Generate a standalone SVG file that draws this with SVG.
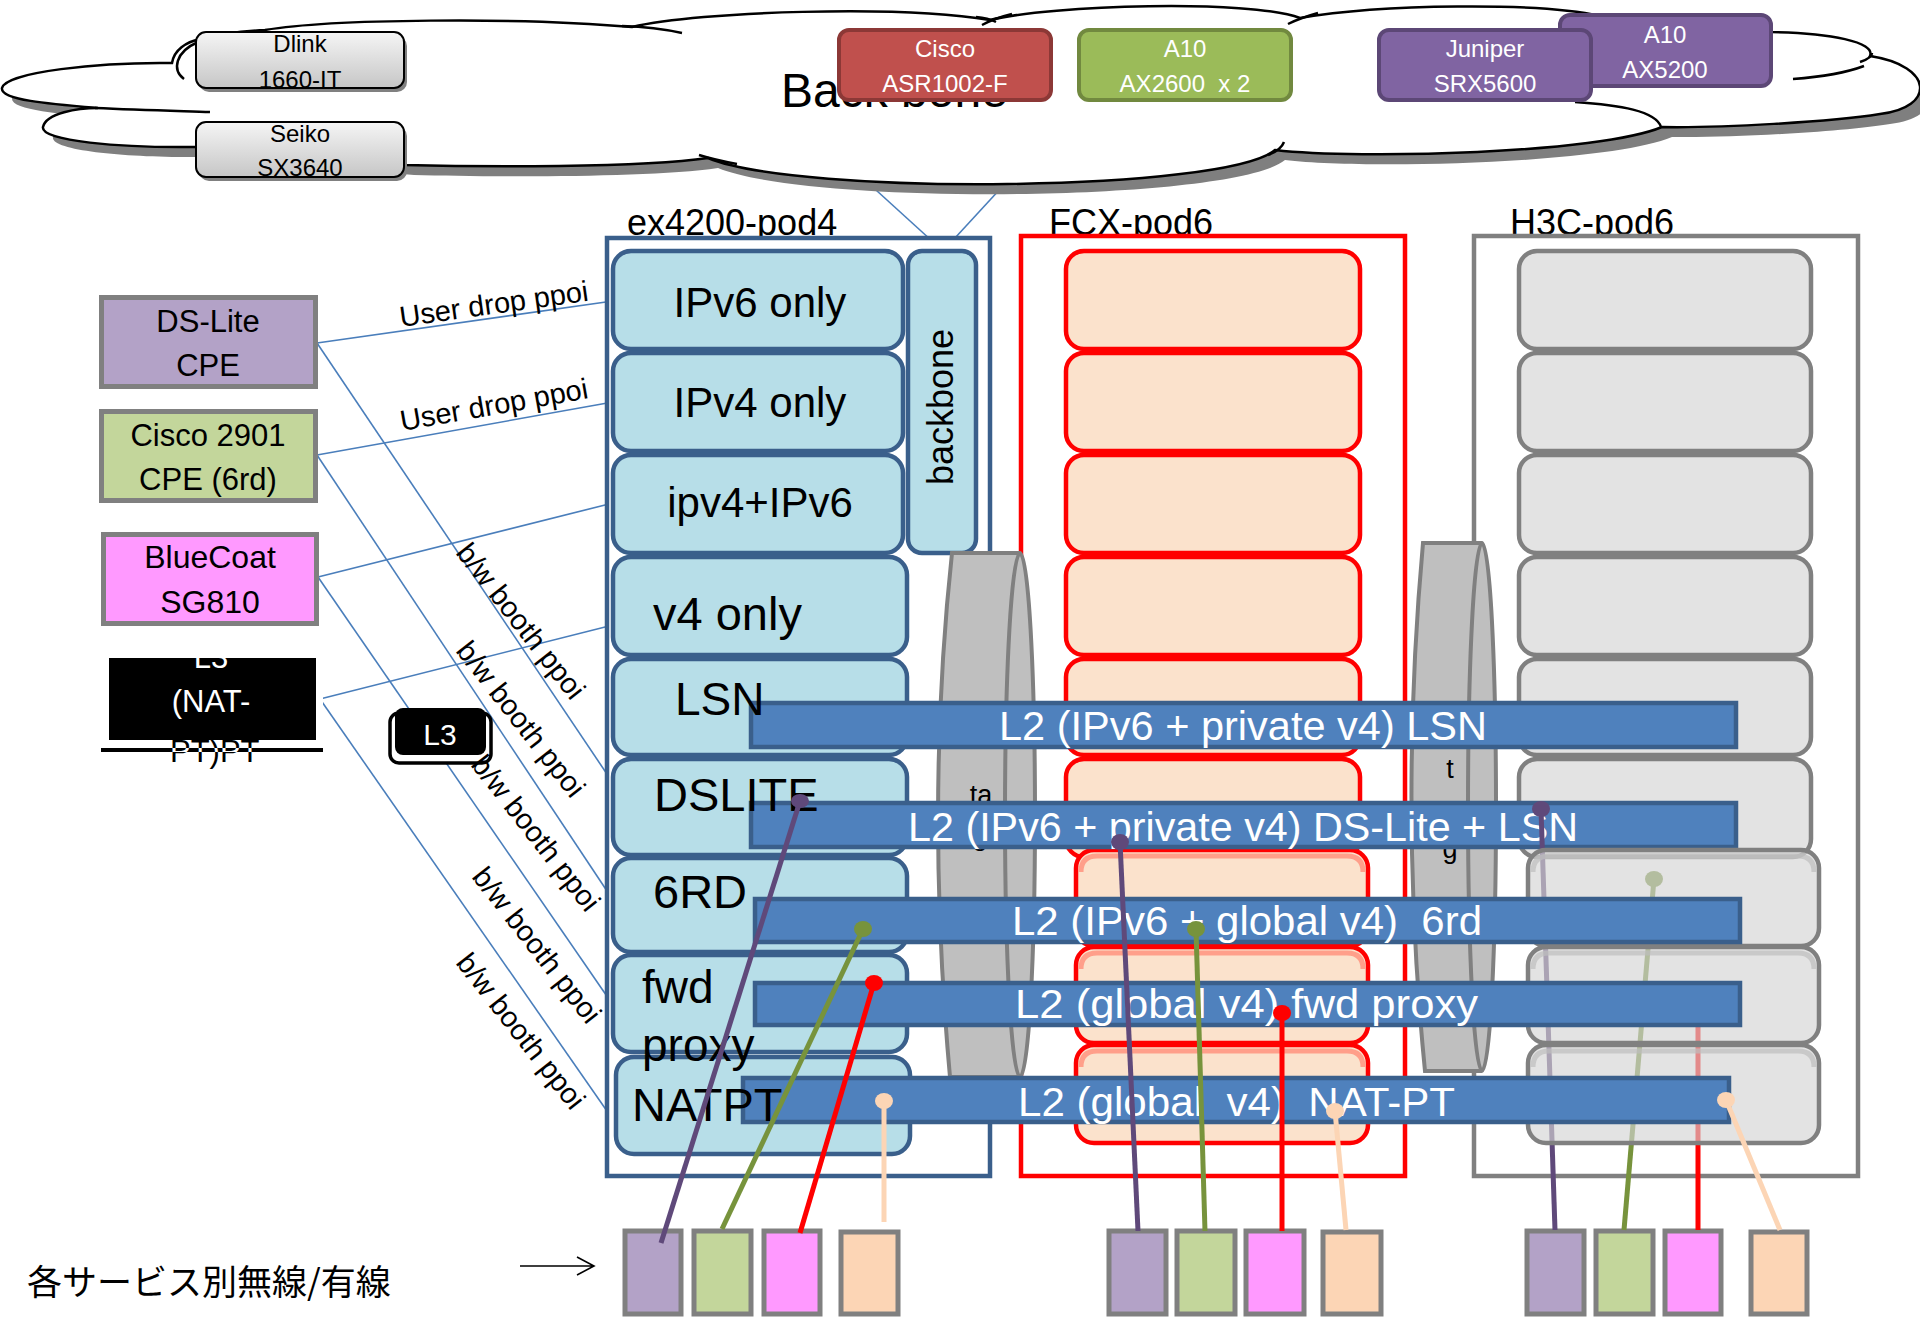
<svg xmlns="http://www.w3.org/2000/svg" width="1920" height="1317" viewBox="0 0 1920 1317">
<defs>
<style>
text{font-family:"Liberation Sans",Arial,sans-serif;}
.cloud{fill:#fff;stroke:#000;stroke-width:2.5;}
.curl{fill:none;stroke:#000;stroke-width:2.5;}
.gbox{fill:url(#gg);stroke:#000;stroke-width:2;}
.wt{fill:#fff;font-size:24px;text-anchor:middle;}
.bt{fill:#000;font-size:24px;text-anchor:middle;}
.conn{stroke:#4a7ebb;stroke-width:1.6;fill:none;}
.lbl{font-size:29px;fill:#000;}
.pod{font-size:36px;fill:#000;}
.exr{fill:#b7dee8;stroke:#3a5f8b;stroke-width:4.5;}
.fxr{fill:#fbe2cc;stroke:#ff0000;stroke-width:4.5;}
.h3r{fill:#e3e3e3;stroke:#808080;stroke-width:4.5;}
.h3t{fill:#d4d4d4;fill-opacity:0.65;stroke:#808080;stroke-width:4.5;}
.rt{font-size:46px;fill:#000;}
.bar{fill:#4f81bd;stroke:#3a5f8b;stroke-width:4.5;}
.bart{fill:#fff;font-size:41px;white-space:pre;}
.cyl{fill:#bfbfbf;stroke:#808080;stroke-width:4;}
.cyli{fill:none;stroke:#808080;stroke-width:4;}
.dev{stroke:#808080;stroke-width:5;}
.dt{font-size:31px;fill:#000;text-anchor:middle;}
.wire{fill:none;stroke-width:5;}
.tag{font-size:27px;fill:#000;text-anchor:middle;}
</style>
<linearGradient id="gg" x1="0" y1="0" x2="0" y2="1"><stop offset="0" stop-color="#f5f5f5"/><stop offset="1" stop-color="#c6c6c6"/></linearGradient>
<path id="cloudp" d="M 2,88 C 5,72 100,62 172,63 C 174,50 186,42 200,39 C 220,34 245,31 265,30 C 330,19 520,17 632,27 C 700,11 900,5 990,20 C 1050,5 1250,-1 1300,18 C 1380,4 1540,2 1600,16 L 1771,32 C 1830,33 1876,42 1870,56 C 1935,66 1935,108 1880,114 C 1830,122 1720,128 1662,127 C 1600,153 1360,160 1275,150 C 1225,192 800,196 708,158 C 640,168 480,167 404,165 L 196,147 C 120,148 40,141 43,127 C 46,113 78,108 98,108 C 50,104 0,100 2,88 Z"/>
<clipPath id="barclip"><rect x="101" y="748" width="222" height="4"/></clipPath>
</defs>
<rect width="1920" height="1317" fill="#fff"/>

<g id="connectors">
<line x1="854" y1="170" x2="943" y2="251" class="conn"/>
<line x1="1013" y1="175" x2="943" y2="251" class="conn"/>
<line x1="317" y1="343" x2="613" y2="301" class="conn"/>
<line x1="317" y1="455" x2="613" y2="402" class="conn"/>
<line x1="318" y1="577" x2="613" y2="503" class="conn"/>
<line x1="320" y1="699" x2="613" y2="625" class="conn"/>
<line x1="317" y1="343" x2="613" y2="783" class="conn"/>
<line x1="317" y1="455" x2="613" y2="900" class="conn"/>
<line x1="318" y1="577" x2="613" y2="1005" class="conn"/>
<line x1="320" y1="699" x2="616" y2="1124" class="conn"/>
</g>

<g id="backbone-cloud">
<use href="#cloudp" transform="translate(10,10)" fill="#7f7f7f"/>
<use href="#cloudp" class="cloud"/>
<path class="curl" d="M 184,79 C 172,70 175,52 198,42"/>
<path class="curl" d="M 95,108 C 140,110 180,111 210,112"/>
<path class="curl" d="M 622,26 Q 655,27 682,33"/>
<path class="curl" d="M 976,17 Q 988,18 996,22"/>
<path class="curl" d="M 982,25 Q 995,18 1012,14"/>
<path class="curl" d="M 1288,24 Q 1300,18 1318,13"/>
<path class="curl" d="M 1872,53 Q 1872,58 1860,62"/>
<path class="curl" d="M 1793,79 C 1820,77 1848,72 1864,66"/>
<path class="curl" d="M 1575,102 C 1620,105 1656,111 1661,127"/>
<path class="curl" d="M 1284,142 Q 1281,150 1268,155"/>
<path class="curl" d="M 699,155 Q 715,160 737,164"/>
<text x="781" y="107" style="font-size:48px">Back bone</text>
</g>

<g id="dlink">
<rect x="199" y="36" width="208" height="56" rx="10" fill="#808080"/>
<rect x="196" y="32" width="208" height="56" rx="10" class="gbox"/>
<text x="300" y="52" class="bt">Dlink</text>
<text x="300" y="88" class="bt">1660-IT</text>
</g>
<g id="seiko">
<rect x="199" y="126" width="208" height="55" rx="10" fill="#808080"/>
<rect x="196" y="122" width="208" height="55" rx="10" class="gbox"/>
<text x="300" y="142" class="bt">Seiko</text>
<text x="300" y="176" class="bt">SX3640</text>
</g>
<g id="cisco-asr">
<rect x="839" y="30" width="212" height="70" rx="10" fill="#c0504d" stroke="#8c3836" stroke-width="4"/>
<text x="945" y="57" class="wt">Cisco</text>
<text x="945" y="92" class="wt">ASR1002-F</text>
</g>
<g id="a10-ax2600">
<rect x="1079" y="30" width="212" height="70" rx="10" fill="#9bbb59" stroke="#71893f" stroke-width="4"/>
<text x="1185" y="57" class="wt">A10</text>
<text x="1185" y="92" class="wt" xml:space="preserve" style="white-space:pre">AX2600  x 2</text>
</g>
<g id="a10-ax5200">
<rect x="1560" y="15" width="211" height="71" rx="10" fill="#8064a2" stroke="#5c4776" stroke-width="4"/>
<text x="1665" y="43" class="wt">A10</text>
<text x="1665" y="78" class="wt">AX5200</text>
</g>
<g id="juniper">
<rect x="1379" y="30" width="212" height="70" rx="10" fill="#8064a2" stroke="#5c4776" stroke-width="4"/>
<text x="1485" y="57" class="wt">Juniper</text>
<text x="1485" y="92" class="wt">SRX5600</text>
</g>

<g id="pod-labels">
<text x="627" y="235" class="pod">ex4200-pod4</text>
<text x="1049" y="235" class="pod">FCX-pod6</text>
<text x="1510" y="235" class="pod">H3C-pod6</text>
</g>

<g id="ex4200-pod4"><rect x="607" y="238" width="383" height="938" fill="#fff" stroke="#3a5f8b" stroke-width="4.5"/></g>
<g id="fcx-pod6"><rect x="1021" y="236" width="384" height="940" fill="#fff" stroke="#ff0000" stroke-width="4.5"/></g>
<g id="h3c-pod6"><rect x="1474" y="236" width="384" height="940" fill="#fff" stroke="#808080" stroke-width="4.5"/></g>

<g id="access-devices">
<rect x="625" y="1231" width="56" height="83" fill="#b3a2c7" class="dev"/>
<rect x="694" y="1231" width="57" height="83" fill="#c3d69b" class="dev"/>
<rect x="764" y="1231" width="56" height="83" fill="#ff99ff" class="dev"/>
<rect x="841" y="1232" width="57" height="82" fill="#fcd5b5" class="dev"/>
<rect x="1109" y="1231" width="57" height="83" fill="#b3a2c7" class="dev"/>
<rect x="1177" y="1231" width="58" height="83" fill="#c3d69b" class="dev"/>
<rect x="1246" y="1231" width="58" height="83" fill="#ff99ff" class="dev"/>
<rect x="1323" y="1232" width="58" height="82" fill="#fcd5b5" class="dev"/>
<rect x="1527" y="1231" width="57" height="83" fill="#b3a2c7" class="dev"/>
<rect x="1596" y="1231" width="57" height="83" fill="#c3d69b" class="dev"/>
<rect x="1665" y="1231" width="56" height="83" fill="#ff99ff" class="dev"/>
<rect x="1751" y="1232" width="56" height="82" fill="#fcd5b5" class="dev"/>
</g>

<g id="ex-rows">
<rect class="exr" x="613" y="251" width="290" height="98" rx="18"/>
<rect class="exr" x="613" y="353" width="290" height="98" rx="18"/>
<rect class="exr" x="613" y="455" width="290" height="98" rx="18"/>
<rect class="exr" x="613" y="557" width="294" height="98" rx="18"/>
<rect class="exr" x="613" y="659" width="294" height="96" rx="18"/>
<rect class="exr" x="613" y="759" width="294" height="96" rx="18"/>
<rect class="exr" x="613" y="858" width="294" height="94" rx="18"/>
<rect class="exr" x="613" y="955" width="294" height="97" rx="18"/>
<rect class="exr" x="616" y="1057" width="294" height="97" rx="18"/>
</g>
<g id="backbone-port">
<rect class="exr" x="908" y="251" width="68" height="302" rx="14"/>
<text transform="translate(953,407) rotate(-90)" text-anchor="middle" style="font-size:36px">backbone</text>
</g>

<g id="fcx-rows">
<rect class="fxr" x="1066" y="251" width="294" height="98" rx="18"/>
<rect class="fxr" x="1066" y="353" width="294" height="98" rx="18"/>
<rect class="fxr" x="1066" y="455" width="294" height="98" rx="18"/>
<rect class="fxr" x="1066" y="557" width="294" height="98" rx="18"/>
<rect class="fxr" x="1066" y="659" width="294" height="96" rx="18"/>
<rect class="fxr" x="1066" y="759" width="294" height="98" rx="18"/>
</g>
<g id="h3c-rows">
<rect class="h3r" x="1519" y="251" width="292" height="98" rx="18"/>
<rect class="h3r" x="1519" y="353" width="292" height="98" rx="18"/>
<rect class="h3r" x="1519" y="455" width="292" height="98" rx="18"/>
<rect class="h3r" x="1519" y="557" width="292" height="98" rx="18"/>
<rect class="h3r" x="1519" y="659" width="292" height="96" rx="18"/>
<rect class="h3r" x="1519" y="759" width="292" height="98" rx="18"/>
</g>
<g id="fcx-rows-lower">
<rect class="fxr" x="1076" y="850" width="292" height="96" rx="18"/>
<path d="M 1081,872 Q 1081,856 1097,856 H 1347 Q 1363,856 1363,872" fill="none" stroke="#ff9f8a" stroke-width="5"/>
<rect class="fxr" x="1076" y="947" width="292" height="96" rx="18"/>
<path d="M 1081,969 Q 1081,953 1097,953 H 1347 Q 1363,953 1363,969" fill="none" stroke="#ff9f8a" stroke-width="5"/>
<rect class="fxr" x="1076" y="1045" width="292" height="98" rx="18"/>
<path d="M 1081,1067 Q 1081,1051 1097,1051 H 1347 Q 1363,1051 1363,1067" fill="none" stroke="#ff9f8a" stroke-width="5"/>
</g>

<g id="lag-left">
<path class="cyl" d="M 952,553 L 1020,553 A 15 262 0 0 1 1020,1077 L 950,1077 C 934,900 934,720 952,553 Z"/>
<path class="cyli" d="M 1020,553 A 15 262 0 0 0 1020,1077"/>
<text x="981" y="804" class="tag">ta</text>
<text x="980" y="845" class="tag">g</text>
</g>
<g id="lag-right">
<path class="cyl" d="M 1423,543 L 1482,543 A 14 264 0 0 1 1482,1071 L 1425,1071 C 1407,890 1407,720 1423,543 Z"/>
<path class="cyli" d="M 1482,543 A 14 264 0 0 0 1482,1071"/>
<text x="1450" y="778" class="tag">t</text>
<text x="1450" y="818" class="tag">a</text>
<text x="1450" y="858" class="tag">g</text>
</g>

<g id="l2-lsn">
<rect class="bar" x="751" y="703" width="985" height="44"/>
<text x="999" y="740" class="bart" textLength="488" lengthAdjust="spacingAndGlyphs">L2 (IPv6 + private v4) LSN</text>
</g>
<g id="l2-dslite">
<rect class="bar" x="751" y="803" width="985" height="44"/>
<text x="908" y="841" class="bart" textLength="670" lengthAdjust="spacingAndGlyphs">L2 (IPv6 + private v4) DS-Lite + LSN</text>
</g>

<g id="wires-h3c-back">
<path class="wire" stroke="#5f497a" d="M 1555,1230 L 1541,809"/>
<ellipse cx="1541" cy="809" rx="9" ry="8" fill="#5f497a"/>
<path class="wire" stroke="#77933c" d="M 1624,1230 L 1654,879"/>
<ellipse cx="1654" cy="879" rx="9" ry="8" fill="#77933c"/>
<path class="wire" stroke="#ff0000" d="M 1698,1230 L 1698,1025"/>
</g>

<g id="h3c-rows-lower">
<rect class="h3t" x="1528" y="850" width="291" height="96" rx="18"/>
<path d="M 1533,872 Q 1533,856 1549,856 H 1798 Q 1814,856 1814,872" fill="none" stroke="#bdbdbd" stroke-opacity="0.7" stroke-width="5"/>
<rect class="h3t" x="1528" y="947" width="291" height="96" rx="18"/>
<path d="M 1533,969 Q 1533,953 1549,953 H 1798 Q 1814,953 1814,969" fill="none" stroke="#bdbdbd" stroke-opacity="0.7" stroke-width="5"/>
<rect class="h3t" x="1528" y="1045" width="291" height="98" rx="18"/>
<path d="M 1533,1067 Q 1533,1051 1549,1051 H 1798 Q 1814,1051 1814,1067" fill="none" stroke="#bdbdbd" stroke-opacity="0.7" stroke-width="5"/>
</g>

<g id="l2-6rd">
<rect class="bar" x="755" y="899" width="985" height="43"/>
<text x="1012" y="935" class="bart" xml:space="preserve" textLength="470" lengthAdjust="spacingAndGlyphs">L2 (IPv6 + global v4)  6rd</text>
</g>
<g id="l2-fwdproxy">
<rect class="bar" x="755" y="983" width="985" height="42"/>
<text x="1015" y="1018" class="bart" textLength="463" lengthAdjust="spacingAndGlyphs">L2 (global v4) fwd proxy</text>
</g>
<g id="l2-natpt">
<rect class="bar" x="743" y="1078" width="986" height="44"/>
<text x="1018" y="1116" class="bart" xml:space="preserve" textLength="437" lengthAdjust="spacingAndGlyphs">L2 (global  v4)  NAT-PT</text>
</g>

<g id="row-labels">
<text x="760" y="317" class="rt" text-anchor="middle" style="font-size:42px">IPv6 only</text>
<text x="760" y="417" class="rt" text-anchor="middle" style="font-size:42px">IPv4 only</text>
<text x="760" y="517" class="rt" text-anchor="middle" style="font-size:42px">ipv4+IPv6</text>
<text x="653" y="630" class="rt" style="font-size:47px">v4 only</text>
<text x="675" y="715" class="rt">LSN</text>
<text x="654" y="811" class="rt" style="font-size:47px">DSLITE</text>
<text x="653" y="908" class="rt" style="font-size:47px">6RD</text>
<text x="642" y="1003" class="rt">fwd</text>
<text x="642" y="1061" class="rt">proxy</text>
<text x="632" y="1121" class="rt" style="font-size:47px">NATPT</text>
</g>

<g id="wires">
<path class="wire" stroke="#5f497a" d="M 661,1243 L 800,801"/>
<ellipse cx="800" cy="801" rx="9" ry="7" fill="#5f497a"/>
<path class="wire" stroke="#77933c" d="M 722,1229 L 863,929"/>
<ellipse cx="863" cy="929" rx="9" ry="8" fill="#77933c"/>
<path class="wire" stroke="#ff0000" d="M 800,1233 L 874,983"/>
<ellipse cx="874" cy="983" rx="9" ry="8" fill="#ff0000"/>
<path class="wire" stroke="#fcd5b5" d="M 884,1222 L 884,1101"/>
<ellipse cx="884" cy="1101" rx="9" ry="8" fill="#fcd5b5"/>
<path class="wire" stroke="#5f497a" d="M 1138,1231 L 1120,842"/>
<ellipse cx="1120" cy="842" rx="9" ry="8" fill="#5f497a"/>
<path class="wire" stroke="#77933c" d="M 1205,1231 L 1196,929"/>
<ellipse cx="1196" cy="929" rx="9" ry="8" fill="#77933c"/>
<path class="wire" stroke="#ff0000" d="M 1282,1231 L 1282,1013"/>
<ellipse cx="1282" cy="1013" rx="9" ry="8" fill="#ff0000"/>
<path class="wire" stroke="#fcd5b5" d="M 1346,1230 L 1335,1111"/>
<ellipse cx="1335" cy="1111" rx="9" ry="8" fill="#fcd5b5"/>
<path class="wire" stroke="#fcd5b5" d="M 1780,1230 L 1726,1100"/>
<ellipse cx="1726" cy="1100" rx="9" ry="8" fill="#fcd5b5"/>
</g>

<g id="ds-lite-cpe">
<rect x="101.5" y="297.5" width="214" height="89" fill="#b3a2c7" class="dev"/>
<text x="208" y="332" class="dt">DS-Lite</text>
<text x="208" y="376" class="dt">CPE</text>
</g>
<g id="cisco-2901">
<rect x="101.5" y="411.5" width="214" height="89" fill="#c3d69b" class="dev"/>
<text x="208" y="446" class="dt">Cisco 2901</text>
<text x="208" y="490" class="dt">CPE (6rd)</text>
</g>
<g id="bluecoat">
<rect x="103.5" y="534.5" width="213" height="89" fill="#ff99ff" class="dev"/>
<text x="210" y="568" class="dt" style="font-size:32px">BlueCoat</text>
<text x="210" y="613" class="dt" style="font-size:32px">SG810</text>
</g>
<g id="l3-natpt">
<rect x="101" y="653" width="222" height="99" fill="#fff"/>
<rect x="109" y="658" width="207" height="82" fill="#000"/>
<text x="211" y="668" class="dt" style="fill:#fff">L3</text>
<text x="211" y="712" class="dt" style="fill:#fff">(NAT-</text>
<text x="170" y="762" style="font-size:31px;fill:#000">PT)PT</text>
<rect x="101" y="748" width="222" height="4" fill="#000"/>
<text x="170" y="762" clip-path="url(#barclip)" style="font-size:31px;fill:#fff">PT)PT</text>
</g>
<g id="l3-switch">
<rect x="390" y="713" width="101" height="50" rx="9" fill="#fff" stroke="#000" stroke-width="3.5"/>
<rect x="395" y="708" width="91" height="47" rx="8" fill="#000"/>
<text x="440" y="745" text-anchor="middle" style="font-size:30px;fill:#fff">L3</text>
</g>

<g id="edge-labels">
<text transform="translate(401,327) rotate(-8)" class="lbl">User drop ppoi</text>
<text transform="translate(402,431) rotate(-10)" class="lbl">User drop ppoi</text>
<text transform="translate(455,553) rotate(52)" class="lbl">b/w booth ppoi</text>
<text transform="translate(455,651) rotate(52)" class="lbl">b/w booth ppoi</text>
<text transform="translate(470,765) rotate(52)" class="lbl">b/w booth ppoi</text>
<text transform="translate(471,877) rotate(52)" class="lbl">b/w booth ppoi</text>
<text transform="translate(455,963) rotate(52)" class="lbl">b/w booth ppoi</text>
</g>

<g id="legend">
<text x="27" y="1295" style="font-family:'Noto Sans CJK JP','Noto Sans CJK SC',sans-serif;font-size:35px;fill:#000">各サービス別無線/有線</text>
<path d="M 520,1266 L 594,1266 M 577,1257 L 594,1266 L 577,1275" fill="none" stroke="#000" stroke-width="1.6"/>
</g>
</svg>
